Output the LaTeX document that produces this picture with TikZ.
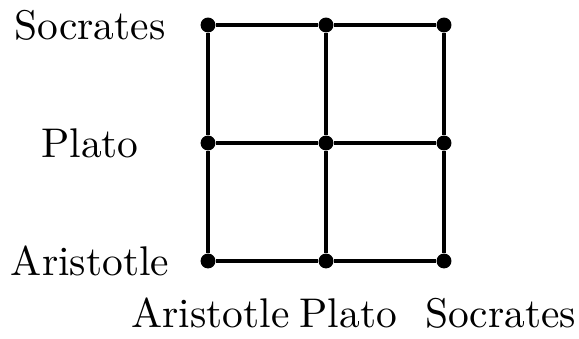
\documentclass[tikz,border=0pt]{standalone}
\begin{document}
\begin{tikzpicture}[
  dot/.style={circle,fill=black,inner sep=0pt,minimum size=3.6pt},
  gridline/.style={line width=0.75pt},
  lbl/.style={inner sep=0pt,font=\normalsize}
]
\useasboundingbox (-1.763,-0.653) rectangle (3.144,2.212);
\foreach \i in {0,1,2}{
  \foreach \j in {0,1,2}{
    \node[dot] (d\i\j) at (\i,\j) {};
  }
}
\foreach \i in {0,1,2}{
  \draw[gridline] (d\i0) -- (d\i1) -- (d\i2);
  \draw[gridline] (d0\i) -- (d1\i) -- (d2\i);
}
\node[lbl] (lS) at (-1,2) {Socrates};
\node[lbl] (lP) at (-1,1) {Plato};
\node[lbl] (lA) at (-1,0) {Aristotle};
\node[lbl] (bA) at (0.02,-0.44) {Aristotle};
\node[lbl] (bP) at (1.19,-0.44) {Plato};
\node[lbl] (bS) at (2.48,-0.44) {Socrates};
\end{tikzpicture}
\end{document}
